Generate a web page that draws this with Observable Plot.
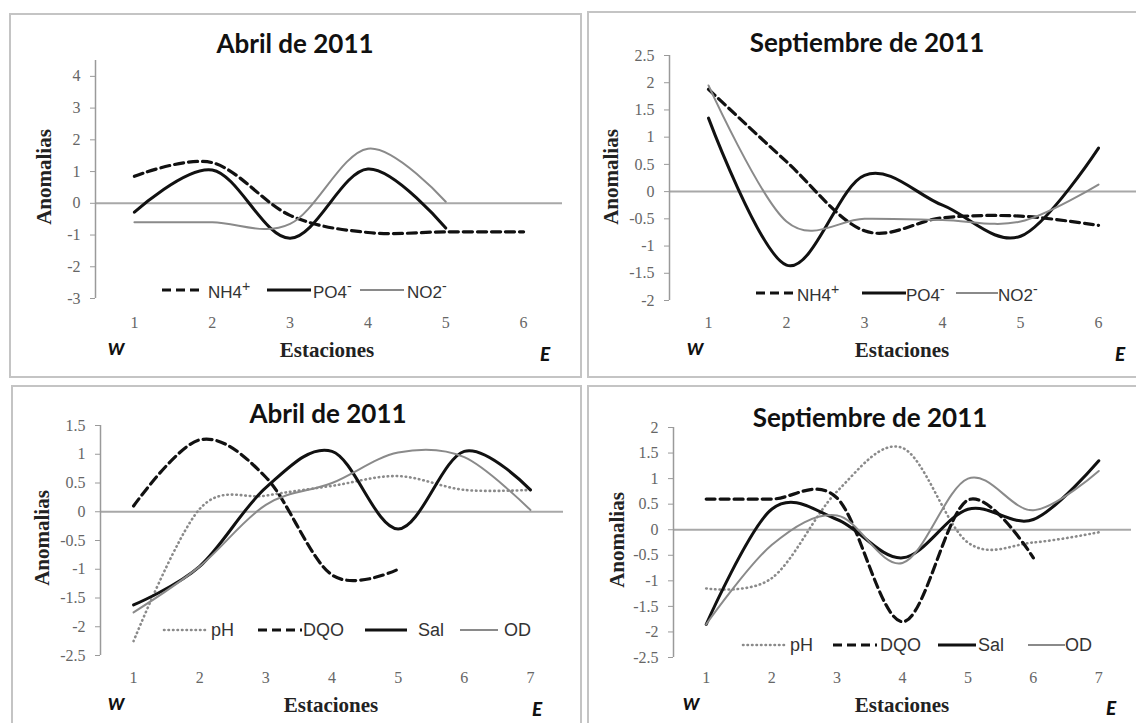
<!DOCTYPE html>
<html>
<head>
<meta charset="utf-8">
<script src="https://cdn.jsdelivr.net/npm/d3@7"></script>
<script src="https://cdn.jsdelivr.net/npm/@observablehq/plot@0.6"></script>
<style>
  html, body { margin: 0; padding: 0; background: #fff; overflow: hidden; }
  #root { position: relative; width: 1136px; height: 723px; overflow: hidden; background: #fff; }
  .box { position: absolute; box-sizing: border-box; border: 2px solid #c4c4c4; }
  .plot { position: absolute; }
  .t { position: absolute; white-space: nowrap; line-height: 1; }
</style>
</head>
<body>
<div id="root"></div>
<script>
// ---------- data ----------
const stations6 = [1, 2, 3, 4, 5, 6];
const stations7 = [1, 2, 3, 4, 5, 6, 7];

// Abril de 2011 (nutrientes)
const aprNH4 = [0.85, 1.28, -0.38, -0.92, -0.9, -0.9];
const aprPO4 = [-0.28, 1.05, -1.1, 1.08, -0.78];
const aprNO2 = [-0.6, -0.6, -0.65, 1.72, 0.05];

// Septiembre de 2011 (nutrientes)
const sepNH4 = [1.88, 0.55, -0.72, -0.48, -0.45, -0.62];
const sepPO4 = [1.35, -1.35, 0.3, -0.25, -0.82, 0.8];
const sepNO2 = [1.95, -0.55, -0.5, -0.52, -0.55, 0.13];

// Abril de 2011 (fisicoquímicos)
const aprPH = [-2.25, 0.05, 0.28, 0.45, 0.62, 0.38, 0.38];
const aprDQO = [0.1, 1.25, 0.6, -1.1, -1.0];
const aprSal = [-1.62, -0.95, 0.42, 1.05, -0.3, 1.05, 0.38];
const aprOD = [-1.75, -0.95, 0.12, 0.5, 1.03, 0.95, 0.03];

// Septiembre de 2011 (fisicoquímicos)
const sepPH = [-1.15, -0.95, 0.75, 1.6, -0.25, -0.25, -0.05];
const sepDQO = [0.6, 0.6, 0.62, -1.8, 0.58, -0.55];
const sepSal = [-1.85, 0.4, 0.2, -0.55, 0.4, 0.2, 1.35];
const sepOD = [-1.85, -0.3, 0.28, -0.65, 1.0, 0.38, 1.15];

// tick labels
const ticksTopApr = [-3, -2, -1, 0, 1, 2, 3, 4];
const ticksTopSep = [-2, -1.5, -1, -0.5, 0, 0.5, 1, 1.5, 2, 2.5];
const ticksBotApr = [-2.5, -2, -1.5, -1, -0.5, 0, 0.5, 1, 1.5];
const ticksBotSep = [-2.5, -2, -1.5, -1, -0.5, 0, 0.5, 1, 1.5, 2];

const titleApr = "Abril de 2011";
const titleSep = "Septiembre de 2011";
const namesNut = ["NH4<sup>+</sup>", "PO4<sup>-</sup>", "NO2<sup>-</sup>"];
const namesFq = ["pH", "DQO", "Sal", "OD"];

// ---------- styles ----------
const sDash = {stroke: "#111", strokeWidth: 3.2, strokeDasharray: "9,5"};
const sSolid = {stroke: "#111", strokeWidth: 3};
const sGray = {stroke: "#8a8a8a", strokeWidth: 2};
const sDot = {stroke: "#8a8a8a", strokeWidth: 2.6, strokeDasharray: "0.5,4", strokeLinecap: "round"};

const root = document.getElementById("root");

function text(html, x, y, css, anchor = "center") {
  const d = document.createElement("div");
  d.className = "t";
  d.innerHTML = html;
  const tr = anchor === "center" ? "translate(-50%,-50%)" : "translate(0,-50%)";
  d.style.cssText += `left:${x}px;top:${y}px;transform:${tr};${css}`;
  root.appendChild(d);
  return d;
}

function legend(items, y, fontSize) {
  for (const it of items) {
    const svgNS = "http://www.w3.org/2000/svg";
    const svg = document.createElementNS(svgNS, "svg");
    const w = it.x2 - it.x1;
    svg.setAttribute("width", w);
    svg.setAttribute("height", 10);
    svg.style.cssText = `position:absolute;left:${it.x1}px;top:${y - 5}px;overflow:visible`;
    const ln = document.createElementNS(svgNS, "line");
    ln.setAttribute("x1", 0); ln.setAttribute("x2", w);
    ln.setAttribute("y1", 5); ln.setAttribute("y2", 5);
    ln.setAttribute("stroke", it.style.stroke);
    ln.setAttribute("stroke-width", it.style.strokeWidth);
    if (it.style.strokeDasharray) ln.setAttribute("stroke-dasharray", it.style.strokeDasharray);
    if (it.style.strokeLinecap) ln.setAttribute("stroke-linecap", it.style.strokeLinecap);
    svg.appendChild(ln);
    root.appendChild(svg);
    text(it.name, it.tx, y, `font-family:'Liberation Sans',Arial,sans-serif;font-size:${fontSize}px;color:#333;`, "left");
  }
}

function panel(cfg) {
  const {box, area, stations, yDomain, yTicks, series, xPad} = cfg;
  const b = document.createElement("div");
  b.className = "box";
  b.style.cssText += `left:${box.l}px;top:${box.t}px;width:${box.w}px;height:${box.h}px;`;
  root.appendChild(b);

  const xmin = d3.min(stations) - 0.5, xmax = d3.max(stations) + 0.5;
  const marks = [
    Plot.ruleY([0], {stroke: "#a8a8a8", strokeWidth: 2}),
    Plot.ruleX([xmin], {y1: yDomain[0], y2: yDomain[1], stroke: "#9a9a9a", strokeWidth: 1.5}),
    Plot.axisY(yTicks, {tickSize: 5, tickPadding: 10, stroke: "#9a9a9a", fill: "#666",
      tickFormat: d => String(d), label: null}),
    Plot.axisX(stations, {tickSize: 0, tickPadding: xPad, fill: "#666",
      tickFormat: d => String(d), label: null})
  ];
  for (const s of series) {
    marks.push(Plot.line(s.values, {
      x: (d, i) => stations[i], y: d => d, curve: "cardinal", ...s.style
    }));
  }
  const p = Plot.plot({
    width: box.w, height: box.h,
    marginLeft: area.x0 - box.l, marginRight: box.l + box.w - area.x1,
    marginTop: area.yTop - box.t, marginBottom: box.t + box.h - area.yBot,
    x: {domain: [xmin, xmax], axis: null},
    y: {domain: yDomain, axis: null},
    style: {background: "transparent", overflow: "visible",
      fontFamily: "'Liberation Serif', 'Times New Roman', serif", fontSize: "16px"},
    marks
  });
  p.classList.add("plot");
  p.style.left = box.l + "px";
  p.style.top = box.t + "px";
  root.appendChild(p);

  const tcss = "font-family:Lato,'Open Sans',sans-serif;font-weight:700;font-size:26px;color:#111;";
  text(cfg.title, cfg.titlePos[0], cfg.titlePos[1], tcss);
  const acss = "font-family:'Liberation Serif',serif;font-weight:700;font-size:21px;color:#222;";
  text("Estaciones", cfg.xLabPos[0], cfg.xLabPos[1], acss);
  const yl = text("Anomalias", cfg.yLabPos[0], cfg.yLabPos[1], acss);
  yl.style.transform = "translate(-50%,-50%) rotate(-90deg)";
  text("W", cfg.wPos[0], cfg.wPos[1], "font-family:Lato,sans-serif;font-weight:900;font-style:italic;font-size:17px;color:#111;");
  text("E", cfg.ePos[0], cfg.ePos[1], "font-family:Lato,sans-serif;font-weight:900;font-style:italic;font-size:19px;color:#111;");
  legend(cfg.legend, cfg.legendY, cfg.legendFont);
}

// ---------- panels ----------
panel({
  box: {l: 9, t: 13, w: 573, h: 365},
  area: {x0: 95, x1: 562, yTop: 60, yBot: 298},
  stations: stations6, yDomain: [-3, 4.5], yTicks: ticksTopApr, xPad: 18,
  series: [
    {values: aprNH4, style: sDash},
    {values: aprPO4, style: sSolid},
    {values: aprNO2, style: sGray}
  ],
  title: titleApr, titlePos: [295, 43],
  xLabPos: [327, 350], yLabPos: [44, 177], wPos: [116, 348], ePos: [545, 353],
  legendY: 290, legendFont: 17,
  legend: [
    {x1: 162, x2: 202, tx: 208, name: namesNut[0], style: sDash},
    {x1: 267, x2: 311, tx: 313, name: namesNut[1], style: sSolid},
    {x1: 360, x2: 404, tx: 407, name: namesNut[2], style: sGray}
  ]
});

panel({
  box: {l: 587, t: 11, w: 560, h: 367},
  area: {x0: 669, x1: 1137, yTop: 55, yBot: 300},
  stations: stations6, yDomain: [-2, 2.5], yTicks: ticksTopSep, xPad: 16,
  series: [
    {values: sepNH4, style: sDash},
    {values: sepPO4, style: sSolid},
    {values: sepNO2, style: sGray}
  ],
  title: titleSep, titlePos: [867, 42],
  xLabPos: [902, 350], yLabPos: [611, 177], wPos: [695, 348], ePos: [1120, 353],
  legendY: 293, legendFont: 17,
  legend: [
    {x1: 756, x2: 796, tx: 797, name: namesNut[0], style: sDash},
    {x1: 862, x2: 906, tx: 906, name: namesNut[1], style: sSolid},
    {x1: 956, x2: 998, tx: 998, name: namesNut[2], style: sGray}
  ]
});

panel({
  box: {l: 11, t: 385, w: 571, h: 345},
  area: {x0: 100, x1: 563, yTop: 425, yBot: 655},
  stations: stations7, yDomain: [-2.5, 1.5], yTicks: ticksBotApr, xPad: 16,
  series: [
    {values: aprPH, style: sDot},
    {values: aprDQO, style: sDash},
    {values: aprSal, style: sSolid},
    {values: aprOD, style: sGray}
  ],
  title: titleApr, titlePos: [328, 413],
  xLabPos: [331, 705], yLabPos: [42, 538], wPos: [116, 703], ePos: [537, 708],
  legendY: 630, legendFont: 18,
  legend: [
    {x1: 164, x2: 207, tx: 211, name: namesFq[0], style: sDot},
    {x1: 258, x2: 302, tx: 303, name: namesFq[1], style: sDash},
    {x1: 365, x2: 407, tx: 418, name: namesFq[2], style: sSolid},
    {x1: 460, x2: 498, tx: 504, name: namesFq[3], style: sGray}
  ]
});

panel({
  box: {l: 587, t: 385, w: 560, h: 345},
  area: {x0: 673, x1: 1131, yTop: 427, yBot: 657},
  stations: stations7, yDomain: [-2.5, 2], yTicks: ticksBotSep, xPad: 14,
  series: [
    {values: sepPH, style: sDot},
    {values: sepDQO, style: sDash},
    {values: sepSal, style: sSolid},
    {values: sepOD, style: sGray}
  ],
  title: titleSep, titlePos: [870, 417],
  xLabPos: [902, 705], yLabPos: [617, 540], wPos: [691, 703], ePos: [1111, 707],
  legendY: 645, legendFont: 18,
  legend: [
    {x1: 743, x2: 787, tx: 790, name: namesFq[0], style: sDot},
    {x1: 833, x2: 877, tx: 880, name: namesFq[1], style: sDash},
    {x1: 938, x2: 976, tx: 978, name: namesFq[2], style: sSolid},
    {x1: 1028, x2: 1065, tx: 1065, name: namesFq[3], style: sGray}
  ]
});
</script>
</body>
</html>
